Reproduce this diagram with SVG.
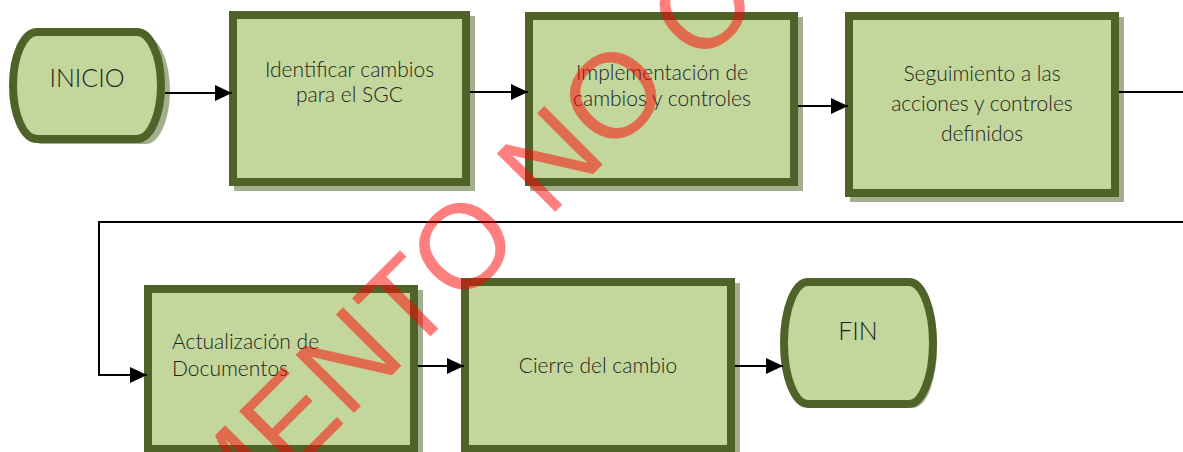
<svg xmlns="http://www.w3.org/2000/svg" width="1183" height="452" viewBox="0 0 1183 452">
  <defs>
    <style>
      .shape { fill: #c3d69b; stroke: #4f6228; stroke-width: 8; }
      .shadow { fill: #a4af8d; }
      .lbl { font-family: Lato, "Liberation Sans", sans-serif; font-weight: 300; font-size: 21px; fill: #1e1e1e; text-anchor: middle; }
      .big { font-size: 25px; }
      .left { text-anchor: start; }
      .conn { fill: none; stroke: #000000; stroke-width: 2; }
      .wm { font-family: "Liberation Sans", Arial, sans-serif; font-size: 120px; fill: #ff0000; fill-opacity: 0.5; }
    </style>
    <marker id="arrow" markerUnits="userSpaceOnUse" markerWidth="17" markerHeight="16" refX="17" refY="8" orient="auto">
      <path d="M0,0 L17,8 L0,16 Z" fill="#000000"/>
    </marker>
  </defs>

  <g id="inicio">
    <path class="shadow" d="M38,33 H142 A24 53.5 0 0 1 142,140 H38 A24 53.5 0 0 1 38,33 Z" transform="translate(4,4)"/>
    <path class="shape" d="M37,32 H137 A24 53.5 0 0 1 137,139 H37 A24 53.5 0 0 1 37,32 Z"/>
    <text class="lbl big" x="87" y="87">INICIO</text>
  </g>

  <g id="identificar">
    <rect class="shadow" x="234" y="16" width="241" height="175"/>
    <rect class="shape" x="233" y="15" width="233" height="167"/>
    <text class="lbl" x="349.5" y="77">Identificar cambios</text>
    <text class="lbl" x="349.5" y="102">para el SGC</text>
  </g>

  <g id="implementacion">
    <rect class="shadow" x="530" y="17" width="273" height="174"/>
    <rect class="shape" x="529" y="16" width="265" height="166"/>
    <text class="lbl" x="662" y="80">Implementación de</text>
    <text class="lbl" x="662" y="106">cambios y controles</text>
  </g>

  <g id="seguimiento">
    <rect class="shadow" x="850" y="17" width="274" height="185"/>
    <rect class="shape" x="849" y="16" width="266" height="177"/>
    <text class="lbl" x="982" y="81">Seguimiento a las</text>
    <text class="lbl" x="982" y="111">acciones y controles</text>
    <text class="lbl" x="982" y="141">definidos</text>
  </g>

  <g id="actualizacion">
    <rect class="shadow" x="149" y="290" width="274" height="168"/>
    <rect class="shape" x="148" y="289" width="266" height="160"/>
    <text class="lbl left" x="172" y="349">Actualización de</text>
    <text class="lbl left" x="172" y="376">Documentos</text>
  </g>

  <g id="cierre">
    <rect class="shadow" x="466" y="283" width="274" height="175"/>
    <rect class="shape" x="465" y="282" width="266" height="167"/>
    <text class="lbl" x="598" y="373">Cierre del cambio</text>
  </g>

  <g id="fin">
    <path class="shadow" d="M808,282 H909 A24 61 0 0 1 909,404 H808 A24 61 0 0 1 808,282 Z" transform="translate(4,4)"/>
    <path class="shape" d="M808,282 H909 A24 61 0 0 1 909,404 H808 A24 61 0 0 1 808,282 Z"/>
    <text class="lbl big" x="858" y="340">FIN</text>
  </g>

  <g id="connectors">
    <line class="conn" x1="165" y1="93" x2="232" y2="93" marker-end="url(#arrow)"/>
    <line class="conn" x1="470" y1="92" x2="528" y2="92" marker-end="url(#arrow)"/>
    <line class="conn" x1="798" y1="106" x2="848" y2="106" marker-end="url(#arrow)"/>
    <path class="conn" d="M1119,92 H1183"/>
    <path class="conn" d="M1183,222 H99 V375 H147" marker-end="url(#arrow)"/>
    <line class="conn" x1="418" y1="366" x2="464" y2="366" marker-end="url(#arrow)"/>
    <line class="conn" x1="735" y1="366" x2="783" y2="366" marker-end="url(#arrow)"/>
  </g>

  <g id="watermark">
    <text class="wm" x="-30" y="797" transform="rotate(-45 -30 797)">DOCUMENTO NO CONTROLADO</text>
  </g>
</svg>
